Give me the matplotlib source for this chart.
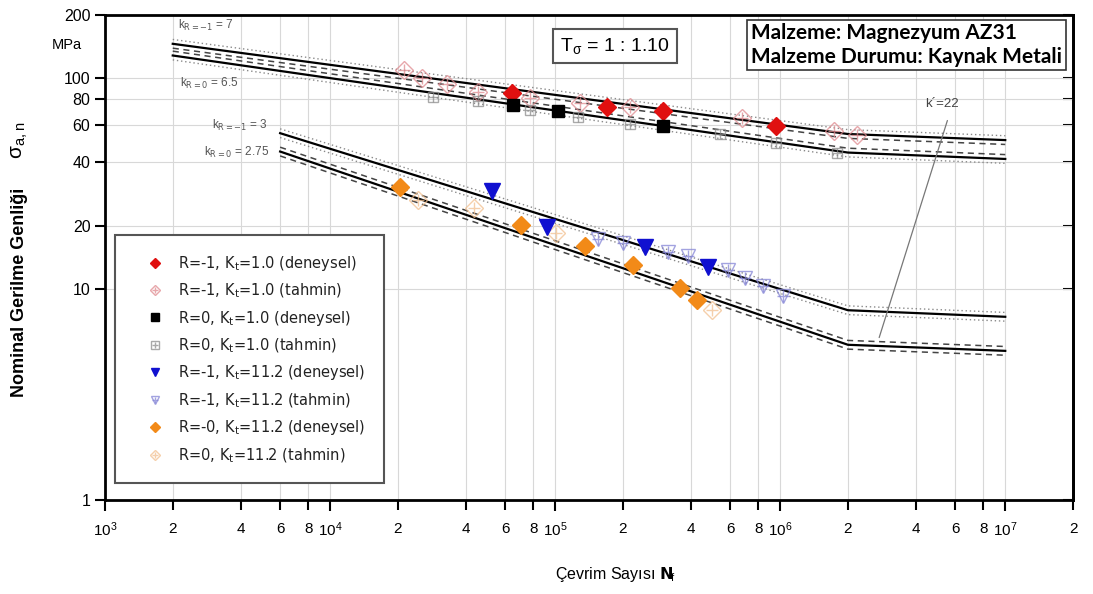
"""
S-N chart (Wöhler) for Magnezyum AZ31 weld metal, R=-1 / R=0, Kt=1.0 / 11.2
"""

### Import modules
import numpy as np
import matplotlib
matplotlib.use('Agg')
import matplotlib.pyplot as plt
from matplotlib.ticker import FixedLocator, FixedFormatter, NullLocator
from matplotlib.legend_handler import HandlerTuple
from matplotlib.lines import Line2D

### Fitted lines: cycles at start, knee, end and stress amplitude (MPa)
n_up = [2e3, 2e6, 1e7]
s_up_r1 = [146, 54.5, 51]
s_up_r0 = [128.5, 44.5, 41.5]
n_lo = [6e3, 2e6, 1e7]
s_lo_r1 = [55, 7.95, 7.4]
s_lo_r0 = [45, 5.45, 5.1]
t_sigma = 1.10   # scatter band 1 : 1.10

### Test points (deneysel)
n_r1_k1 = [6.4e4, 1.7e5, 3.0e5, 9.6e5]
s_r1_k1 = [84.9, 73.6, 69.8, 59.2]
n_r0_k1 = [6.5e4, 1.03e5, 3.0e5]
s_r0_k1 = [74.5, 69.8, 59.8]
n_r1_k11 = [5.25e4, 9.2e4, 2.5e5, 4.8e5]
s_r1_k11 = [29.1, 19.7, 15.8, 12.7]
n_r0_k11 = [2.05e4, 7.06e4, 1.36e5, 2.22e5, 3.59e5, 4.27e5]
s_r0_k11 = [30.4, 20.1, 16.0, 13.0, 10.1, 8.9]

### Estimated points (tahmin)
n_r1_k1_t = [2.13e4, 2.56e4, 3.31e4, 4.55e4, 7.74e4, 1.29e5, 2.15e5, 6.78e5, 1.74e6, 2.2e6]
s_r1_k1_t = [110, 101, 93.7, 85.9, 80.4, 76.2, 73.6, 64.6, 56.1, 53.7]
n_r0_k1_t = [2.87e4, 4.55e4, 7.74e4, 1.27e5, 2.15e5, 5.41e5, 9.6e5, 1.79e6]
s_r0_k1_t = [81.3, 77.8, 70.5, 65.3, 60.5, 54.3, 49.2, 44.1]
n_r1_k11_t = [1.55e5, 2.0e5, 3.18e5, 3.9e5, 5.87e5, 6.99e5, 8.4e5, 1.03e6]
s_r1_k11_t = [17.4, 16.5, 15.0, 14.3, 12.3, 11.3, 10.4, 9.3]
n_r0_k11_t = [2.46e4, 4.37e4, 1.01e5, 4.99e5]
s_r0_k11_t = [26.4, 24.2, 18.4, 7.95]

labels = [r'R=-1, K$_\mathrm{t}$=1.0 (deneysel)', r'R=-1, K$_\mathrm{t}$=1.0 (tahmin)',
          r'R=0, K$_\mathrm{t}$=1.0 (deneysel)', r'R=0, K$_\mathrm{t}$=1.0 (tahmin)',
          r'R=-1, K$_\mathrm{t}$=11.2 (deneysel)', r'R=-1, K$_\mathrm{t}$=11.2 (tahmin)',
          r'R=-0, K$_\mathrm{t}$=11.2 (deneysel)', r'R=0, K$_\mathrm{t}$=11.2 (tahmin)']

### Axis ticks
xmajor = [1e3, 1e4, 1e5, 1e6, 1e7]
xmajorlabels = [r'$10^3$', r'$10^4$', r'$10^5$', r'$10^6$', r'$10^7$']
xminor = [m * d for d in [1e3, 1e4, 1e5, 1e6] for m in [2, 4, 6, 8]] + [2e7]
xminorlabels = ['2', '4', '6', '8'] * 4 + ['2']
yticks = [1, 10, 20, 40, 60, 80, 100, 200]

###############################################################################
### Plot figure
plt.rc('font', family='Liberation Sans')
plt.rc('mathtext', default='regular')

fig = plt.figure(figsize=(10.93, 5.94), dpi=100)
ax = fig.add_axes([105/1093, 94/594, 968/1093, 485/594])
ax.set_xscale('log')
ax.set_yscale('log')
ax.set_xlim(1e3, 2e7)
ax.set_ylim(1, 200)

for loc, spine in ax.spines.items():
    spine.set_linewidth(2)

ax.xaxis.set_major_locator(FixedLocator(xmajor))
ax.xaxis.set_major_formatter(FixedFormatter(xmajorlabels))
ax.xaxis.set_minor_locator(FixedLocator(xminor))
ax.xaxis.set_minor_formatter(FixedFormatter(xminorlabels))
ax.yaxis.set_major_locator(FixedLocator(yticks))
ax.yaxis.set_major_formatter(FixedFormatter([str(v) for v in yticks]))
ax.yaxis.set_minor_locator(NullLocator())
ax.tick_params('x', which='major', length=8, width=1.5, direction='out',
               labelsize=11, pad=7)
ax.tick_params('x', which='minor', length=7, width=1.5, direction='out',
               labelsize=11, pad=9)
ax.tick_params('y', which='major', length=7, width=1.5, direction='out',
               labelsize=11.5)
ax.grid(True, which='both', axis='x', color='#d8d8d8', linewidth=0.8)
ax.grid(True, which='major', axis='y', color='#d8d8d8', linewidth=0.8)
ax.set_axisbelow(True)

sec = ax.secondary_yaxis('right')
sec.yaxis.set_major_locator(FixedLocator(yticks))
sec.yaxis.set_minor_locator(NullLocator())
sec.tick_params('y', which='both', direction='in', length=7, width=1.5,
                labelright=False)
sec.spines['right'].set_linewidth(2)

### Fitted lines with scatter bands
band = np.sqrt(t_sigma)
dash = dict(color='#444444', linewidth=1.1, linestyle=(0, (4, 3)))
dots = dict(color='#8a8a8a', linewidth=1.0, linestyle=(0, (1, 2)))

ax.plot(n_up, s_up_r1, color='k', linewidth=1.6)
ax.plot(n_up, np.array(s_up_r1) * band, **dots)
ax.plot(n_up, np.array(s_up_r1) / band, **dash)
ax.plot(n_up, s_up_r0, color='k', linewidth=1.6)
ax.plot(n_up, np.array(s_up_r0) * band, **dash)
ax.plot(n_up, np.array(s_up_r0) / band, **dots)

ax.plot(n_lo, s_lo_r1, color='k', linewidth=1.6)
ax.plot(n_lo, np.array(s_lo_r1) * band, **dots)
ax.plot(n_lo, np.array(s_lo_r1) / band, **dots)
ax.plot(n_lo, s_lo_r0, color='k', linewidth=1.6)
ax.plot(n_lo, np.array(s_lo_r0) * band, **dash)
ax.plot(n_lo, np.array(s_lo_r0) / band, **dash)

### Estimated points: open marker with a cross
def tahmin(n, s, marker, color, ms):
    a, = ax.plot(n, s, linestyle='none', marker=marker, ms=ms, mfc='none',
                 mec=color, mew=1.0, alpha=0.75)
    b, = ax.plot(n, s, linestyle='none', marker='+', ms=ms*0.9,
                 mec=color, mew=1.0, alpha=0.75)
    return a, b

h2 = tahmin(n_r1_k1_t, s_r1_k1_t, 'D', '#e08a8f', 9)
h4 = tahmin(n_r0_k1_t, s_r0_k1_t, 's', '#8c8c8c', 7.5)
h6 = tahmin(n_r1_k11_t, s_r1_k11_t, 'v', '#8585d6', 10)
h8 = tahmin(n_r0_k11_t, s_r0_k11_t, 'D', '#f2c08f', 9)

h1, = ax.plot(n_r1_k1, s_r1_k1, linestyle='none', marker='D', ms=9,
              color='#e01010')
h3, = ax.plot(n_r0_k1, s_r0_k1, linestyle='none', marker='s', ms=9,
              color='black')
h5, = ax.plot(n_r1_k11, s_r1_k11, linestyle='none', marker='v', ms=11,
              color='#1010d0')
h7, = ax.plot(n_r0_k11, s_r0_k11, linestyle='none', marker='D', ms=9.5,
              color='#f28a18')

### Legend with small markers
def small(h, ms=5.5):
    return Line2D([], [], linestyle='none', marker=h.get_marker(), ms=ms,
                  mfc=h.get_markerfacecolor(), mec=h.get_markeredgecolor(),
                  alpha=h.get_alpha())

handles = [small(h1), (small(h2[0]), small(h2[1], 5)), small(h3),
           (small(h4[0]), small(h4[1], 5)), small(h5),
           (small(h6[0]), small(h6[1], 5)),
           small(h7), (small(h8[0]), small(h8[1], 5))]
l = ax.legend(handles, labels, loc='upper left', bbox_to_anchor=(0.0103, 0.547),
              borderaxespad=0, fancybox=False, framealpha=1, edgecolor='#555555',
              prop={'family': 'DejaVu Sans', 'size': 10.5}, labelspacing=0.6,
              borderpad=1.3, handlelength=2.9, handletextpad=0.1,
              handler_map={tuple: HandlerTuple(ndivide=1, pad=0)})
l.get_frame().set_linewidth(1.5)
for text in l.get_texts():
    text.set_color('#222222')

### Slope labels
kstyle = dict(fontsize=8.5, color='#555555', ha='left', va='center')
ax.text(2.1e3, 178, r'k$_{\mathrm{R=-1}}$ = 7', **kstyle)
ax.text(2.15e3, 95, r'k$_{\mathrm{R=0}}$ = 6.5', **kstyle)
ax.text(3.0e3, 60, r'k$_{\mathrm{R=-1}}$ = 3', **kstyle)
ax.text(2.75e3, 44.5, r'k$_{\mathrm{R=0}}$ = 2.75', **kstyle)
ax.annotate('', xy=(2.73e6, 5.73), xytext=(5.58e6, 65),
            arrowprops=dict(arrowstyle='-', color='#777777', linewidth=0.9))
ax.text(5.25e6, 76, 'k´=22', fontsize=9.5, color='#444444', ha='center',
        va='center')

### Boxes
ax.text(615/1093, 1-46/594, r'T$_\sigma$ = 1 : 1.10', transform=fig.transFigure,
        fontsize=14, ha='center', va='center',
        bbox=dict(boxstyle='square,pad=0.35', fc='white', ec='#555555', lw=1.5))
ax.text(751/1093, 1-45/594, 'Malzeme: Magnezyum AZ31\nMalzeme Durumu: Kaynak Metali',
        transform=fig.transFigure, fontsize=15, family='Lato', weight='bold',
        ha='left', va='center', linespacing=1.2,
        bbox=dict(boxstyle='square,pad=0.18', fc='white', ec='#333333', lw=1.2))

### Axis titles
fig.text(52/1093, 1-45/594, 'MPa', fontsize=10.5, ha='left', va='center')
fig.text(20/1093, 1-292/594, 'Nominal Gerilme Genliği', rotation=90,
         fontsize=13, weight='bold', ha='center', va='center')
fig.text(20/1093, 1-140/594, r'$\sigma_{a,n}$', rotation=90, fontsize=15,
         ha='center', va='center')
fig.text(615/1093, 1-575/594, r'Çevrim Sayısı $\mathbf{N}_{\!f}$', fontsize=11.5,
         ha='center', va='center')

plt.savefig('out.png', dpi=100)
